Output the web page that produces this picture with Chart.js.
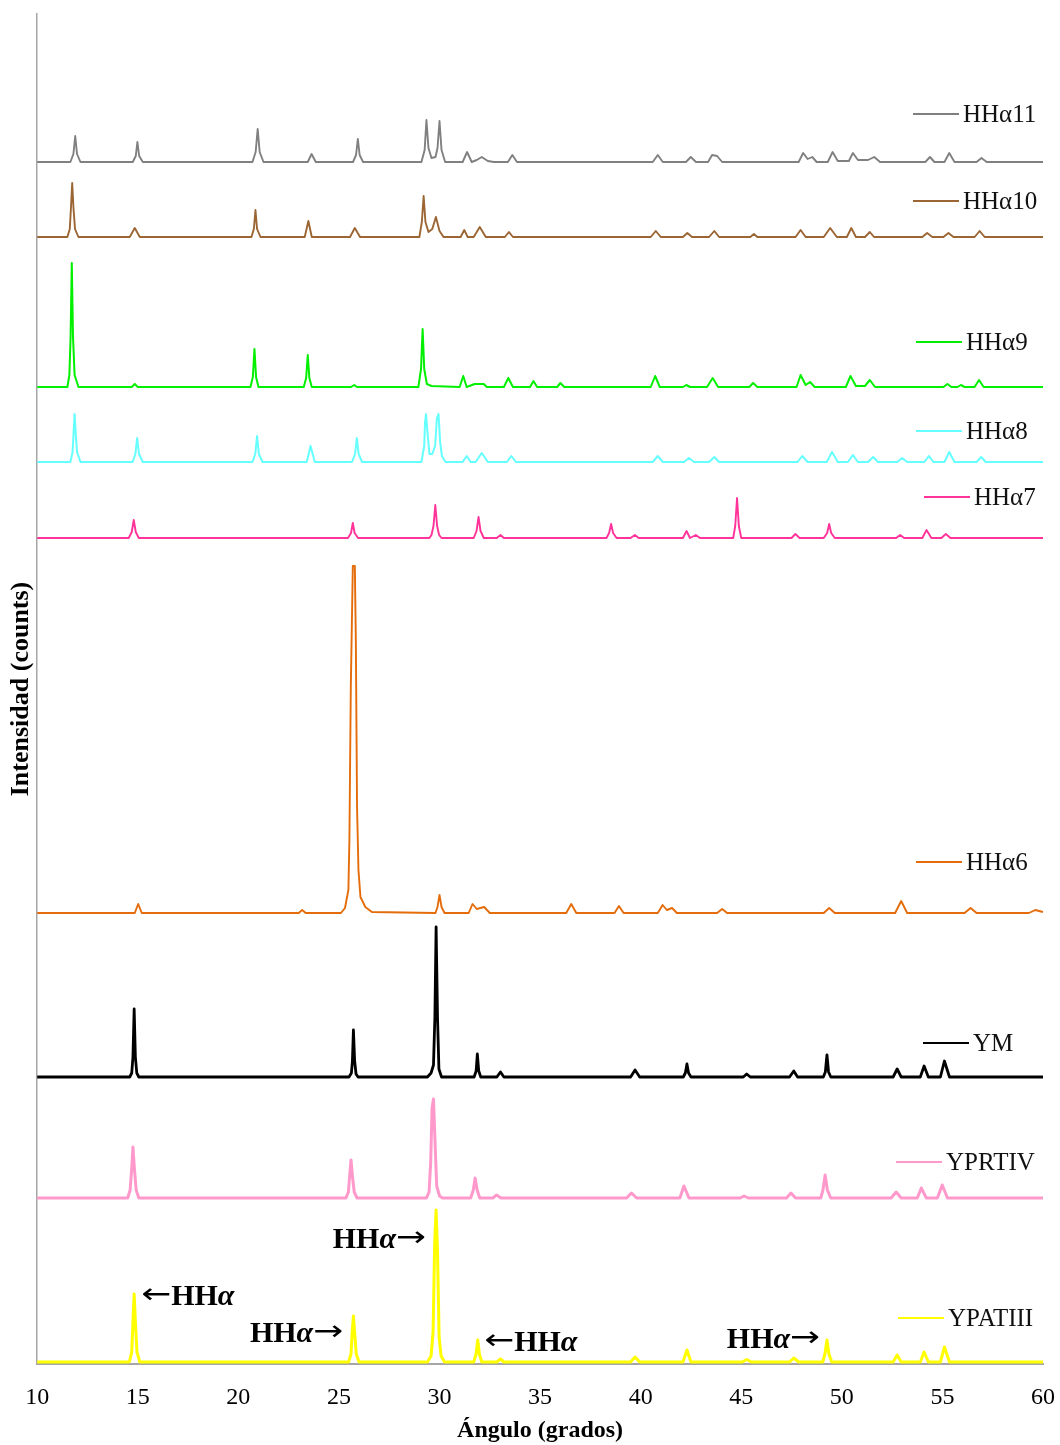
<!DOCTYPE html>
<html>
<head>
<meta charset="utf-8">
<script src="https://cdn.jsdelivr.net/npm/chart.js@4.4.1/dist/chart.umd.min.js"></script>
<style>
  html, body { margin: 0; padding: 0; background: #fff; }
  canvas { display: block; }
</style>
</head>
<body>
<canvas id="xrd" width="1060" height="1445"></canvas>
<script>
// ---------- datos: [ángulo, intensidad sobre la línea base] ----------

const seriesNames = ['HHα11', 'HHα10', 'HHα9', 'HHα8', 'HHα7', 'HHα6', 'YM', 'YPRTIV', 'YPATIII'];
const seriesColors = ['#808080', '#9b6534', '#00f000', '#66ffff', '#ff3399', '#e46c0a', '#000000', '#ff99cc', '#ffff00'];
const seriesWidths = [1.9, 1.9, 2, 2, 1.9, 1.9, 2.8, 3, 3];
// desplazamiento vertical de cada difractograma
const offsets = [1202, 1127, 977, 902, 826, 451, 287, 166, 2];

const hha11 = [[10,0],[11.65,0],[11.8,8],[11.89,26],[11.98,8],[12.15,0],
  [14.75,0],[14.9,6],[14.98,20],[15.07,6],[15.25,0],
  [20.7,0],[20.86,10],[20.96,33],[21.06,10],[21.25,0],
  [23.45,0],[23.64,8],[23.85,0],
  [25.7,0],[25.85,7],[25.94,23],[26.03,7],[26.2,0],
  [29.1,0],[29.26,12],[29.35,42],[29.45,14],[29.6,4],[29.8,5],[29.9,14],[30.0,41],[30.1,12],[30.28,0],
  [31.15,0],[31.37,10],[31.6,0],[31.85,2],[32.1,5],[32.4,1],[32.7,0],
  [33.4,0],[33.62,7],[33.85,0],
  [40.6,0],[40.85,7],[41.1,0],
  [42.25,0],[42.49,5],[42.75,0],
  [43.35,0],[43.55,7],[43.8,6],[44.05,0],
  [47.85,0],[48.08,9],[48.3,3],[48.53,5],[48.75,0],
  [49.3,0],[49.54,10],[49.8,1],
  [50.35,1],[50.55,9],[50.8,2],[51.3,2],[51.61,5],[51.9,0],
  [54.15,0],[54.38,5],[54.6,0],
  [55.1,0],[55.34,9],[55.6,0],
  [56.7,0],[56.94,4],[57.2,0],[60,0]];

const hha10 = [[10,0],[11.5,0],[11.62,8],[11.68,30],[11.74,54],[11.8,30],[11.88,8],[12.05,0],
  [14.6,0],[14.85,9],[15.1,0],
  [20.65,0],[20.77,8],[20.85,27],[20.93,8],[21.1,0],
  [23.3,0],[23.48,16],[23.65,0],
  [25.55,0],[25.79,9],[26.05,0],
  [29.0,0],[29.12,15],[29.21,41],[29.3,15],[29.45,5],[29.64,8],[29.82,20],[30.0,6],[30.2,0],
  [31.05,0],[31.23,7],[31.4,0],
  [31.7,0],[32.0,10],[32.3,0],
  [33.25,0],[33.45,5],[33.65,0],
  [40.5,0],[40.75,6],[41.0,0],
  [42.1,0],[42.32,4],[42.55,0],
  [43.4,0],[43.66,6],[43.9,0],
  [45.45,0],[45.63,3],[45.8,0],
  [47.7,0],[47.95,7],[48.2,0],
  [49.1,0],[49.42,9],[49.75,0],
  [50.25,0],[50.47,9],[50.7,0],
  [51.15,0],[51.39,5],[51.6,0],
  [54.0,0],[54.24,4],[54.5,0],
  [55.05,0],[55.3,4],[55.55,0],
  [56.6,0],[56.85,6],[57.1,0],[60,0]];

const hha9 = [[10,0],[11.5,0],[11.6,12],[11.66,50],[11.72,124],[11.78,50],[11.86,12],[12.05,0],
  [14.7,0],[14.85,3],[15.0,0],
  [20.6,0],[20.72,10],[20.8,38],[20.88,10],[21.0,0],
  [23.25,0],[23.37,9],[23.45,32],[23.53,9],[23.65,0],
  [25.6,0],[25.76,2],[25.9,0],
  [28.95,0],[29.08,18],[29.16,58],[29.24,18],[29.37,3],[29.6,1],
  [31.0,0],[31.18,11],[31.35,0],
  [31.75,3],[32.2,3],[32.35,0],
  [33.2,0],[33.42,9],[33.65,0],
  [34.5,0],[34.67,6],[34.85,0],
  [35.85,0],[36.01,4],[36.2,0],
  [40.5,0],[40.72,11],[40.95,0],
  [42.1,0],[42.27,2],[42.45,0],
  [43.3,0],[43.58,9],[43.85,0],
  [45.4,0],[45.59,4],[45.8,0],
  [47.75,0],[47.95,12],[48.2,2],[48.42,5],[48.65,0],
  [50.2,0],[50.43,11],[50.7,1],
  [51.15,1],[51.39,7],[51.65,0],
  [55.05,0],[55.25,3],[55.45,0],
  [55.75,0],[55.92,2],[56.1,0],
  [56.6,0],[56.82,7],[57.05,0],[60,0]];

const hha8 = [[10,0],[11.65,0],[11.76,10],[11.81,30],[11.86,48],[11.91,30],[11.98,10],[12.15,0],
  [14.75,0],[14.88,8],[14.97,24],[15.06,8],[15.25,0],
  [20.7,0],[20.84,8],[20.93,26],[21.02,8],[21.2,0],
  [23.4,0],[23.59,16],[23.8,0],
  [25.65,0],[25.8,8],[25.89,24],[25.98,8],[26.15,0],
  [29.1,0],[29.24,16],[29.28,40],[29.33,48],[29.4,30],[29.5,8],[29.64,8],[29.78,16],[29.87,44],[29.95,48],[30.03,20],[30.12,6],[30.3,0],
  [31.15,0],[31.35,6],[31.55,0],
  [31.8,0],[32.1,9],[32.4,0],
  [33.35,0],[33.57,6],[33.8,0],
  [40.6,0],[40.85,6],[41.1,0],
  [42.15,0],[42.4,4],[42.65,0],
  [43.4,0],[43.66,5],[43.9,0],
  [47.8,0],[48.03,6],[48.3,0],
  [49.25,0],[49.51,10],[49.8,0],
  [50.3,0],[50.55,7],[50.8,0],
  [51.3,0],[51.56,5],[51.8,0],
  [52.75,0],[52.99,4],[53.25,0],
  [54.1,0],[54.33,6],[54.55,0],
  [55.1,0],[55.34,10],[55.6,0],
  [56.7,0],[56.93,5],[57.15,0],[60,0]];

const hha7 = [[10,0],[14.55,0],[14.7,6],[14.8,18],[14.9,6],[15.05,0],
  [25.45,0],[25.6,5],[25.69,15],[25.78,5],[25.95,0],
  [29.5,0],[29.6,3],[29.7,12],[29.79,33],[29.88,12],[29.98,3],[30.1,0],
  [31.7,0],[31.84,7],[31.94,21],[32.04,7],[32.2,0],
  [32.85,0],[33.03,3],[33.2,0],
  [38.3,0],[38.43,5],[38.53,14],[38.63,5],[38.8,0],
  [39.5,0],[39.71,3],[39.9,0],
  [42.1,0],[42.28,7],[42.45,0],[42.74,3],[42.95,0],
  [44.6,0],[44.7,12],[44.79,40],[44.88,12],[45.0,0],
  [47.5,0],[47.69,4],[47.9,0],
  [49.1,0],[49.27,5],[49.37,14],[49.47,5],[49.65,0],
  [52.7,0],[52.9,3],[53.1,0],
  [54.0,0],[54.21,8],[54.45,0],
  [54.95,0],[55.17,4],[55.4,0],[60,0]];

const hha6 = [[10,0],[14.85,0],[15.02,9],[15.2,0],
  [23.0,0],[23.17,3],[23.35,0],
  [25.1,0],[25.3,5],[25.47,23],[25.52,73],[25.59,226],[25.69,347],[25.79,347],[25.84,273],[25.9,106],[25.97,43],[26.07,16],[26.31,6],[26.64,1],
  [29.8,0],[29.9,6],[30.0,18],[30.1,6],[30.25,0],
  [31.45,0],[31.64,9],[31.85,4],[32.22,6],[32.5,0],
  [36.3,0],[36.55,9],[36.8,0],
  [38.7,0],[38.92,7],[39.15,0],
  [40.85,0],[41.09,8],[41.3,3],[41.56,5],[41.8,0],
  [43.8,0],[44.05,4],[44.3,0],
  [49.1,0],[49.37,5],[49.65,0],
  [52.65,0],[52.95,12],[53.25,0],
  [56.1,0],[56.4,5],[56.7,0],
  [59.3,0],[59.62,3],[60,1]];

const ym = [[10,0],[14.6,0],[14.7,4],[14.76,20],[14.82,68],[14.88,20],[14.95,4],[15.05,0],
  [25.5,0],[25.62,4],[25.67,16],[25.72,47],[25.78,16],[25.85,3],[25.95,0],
  [29.4,0],[29.58,4],[29.7,12],[29.77,60],[29.83,150],[29.9,60],[29.97,8],[30.1,0],
  [31.72,0],[31.82,6],[31.88,23],[31.95,6],[32.05,0],
  [32.85,0],[33.03,5],[33.2,0],
  [39.5,0],[39.72,7],[39.95,0],
  [42.12,0],[42.22,4],[42.3,13],[42.38,4],[42.5,0],
  [45.1,0],[45.27,3],[45.45,0],
  [47.4,0],[47.61,6],[47.8,0],
  [49.08,0],[49.18,5],[49.26,22],[49.34,5],[49.45,0],
  [52.55,0],[52.75,8],[52.95,0],
  [53.9,0],[54.09,11],[54.3,0],
  [54.9,0],[55.1,16],[55.35,0],[60,0]];

const yprtiv = [[10,0],[14.5,0],[14.62,8],[14.7,30],[14.76,51],[14.83,30],[14.92,8],[15.05,0],
  [25.35,0],[25.47,6],[25.54,24],[25.6,38],[25.67,22],[25.76,6],[25.9,0],
  [29.35,0],[29.48,6],[29.56,35],[29.63,90],[29.7,99],[29.77,60],[29.86,12],[30.0,2],[30.15,0],
  [31.55,0],[31.68,8],[31.77,20],[31.87,8],[32.0,0],
  [32.65,0],[32.84,3],[33.05,0],
  [39.3,0],[39.54,5],[39.8,0],
  [41.95,0],[42.15,12],[42.4,0],
  [44.95,0],[45.14,2],[45.35,0],
  [47.25,0],[47.47,5],[47.7,0],
  [48.95,0],[49.06,8],[49.17,23],[49.28,8],[49.45,0],
  [52.45,0],[52.7,6],[52.95,0],
  [53.75,0],[53.95,10],[54.2,0],
  [54.75,0],[54.99,13],[55.25,0],[60,0]];

const ypatiii = [[10,0],[14.58,0],[14.7,10],[14.76,40],[14.82,68],[14.88,40],[14.96,10],[15.1,0],
  [25.48,0],[25.6,8],[25.66,30],[25.72,46],[25.78,30],[25.86,8],[26.0,0],
  [29.4,0],[29.58,6],[29.68,30],[29.76,120],[29.83,152],[29.9,110],[29.98,25],[30.08,6],[30.25,0],
  [31.7,0],[31.82,8],[31.9,22],[31.98,8],[32.1,0],
  [32.85,0],[33.03,3],[33.2,0],
  [39.5,0],[39.72,5],[39.95,0],
  [42.1,0],[42.3,12],[42.5,0],
  [45.05,0],[45.27,2.5],[45.5,0],
  [47.4,0],[47.61,4],[47.85,0],
  [49.05,0],[49.16,8],[49.26,22],[49.36,8],[49.5,0],
  [52.55,0],[52.75,7],[52.95,0],
  [53.9,0],[54.09,10],[54.3,0],
  [54.9,0],[55.1,15],[55.35,0],[60,0]];

const patterns = [hha11, hha10, hha9, hha8, hha7, hha6, ym, yprtiv, ypatiii];

const xTicks = [10, 15, 20, 25, 30, 35, 40, 45, 50, 55, 60];

// marcas de HHα sobre YPATIII: [ángulo, intensidad, texto]
const hhaMarks = [[15.17, 65, '←HHα'], [25.21, 28, 'HHα→'], [29.33, 122, 'HHα→'], [32.22, 19, '←HHα'], [48.92, 22, 'HHα→']];

// ============================================
// LEYENDA JUNTO A CADA CURVA
// ============================================

const legendSpots = [
    { x: 913, y: 114 }, { x: 913, y: 201 }, { x: 916, y: 342 }, { x: 916, y: 431 },
    { x: 924, y: 497 }, { x: 916, y: 862 }, { x: 923, y: 1043 }, { x: 896, y: 1162 }, { x: 898, y: 1318 }
];

const sideLegend = {
    id: 'sideLegend',
    afterDatasetsDraw(chart) {
        const ctx = chart.ctx;
        ctx.save();
        ctx.font = '25px "Liberation Serif"';
        ctx.textBaseline = 'middle';
        ctx.textAlign = 'left';
        seriesNames.forEach((name, i) => {
            const s = legendSpots[i];
            ctx.strokeStyle = seriesColors[i];
            ctx.lineWidth = 2;
            ctx.beginPath();
            ctx.moveTo(s.x, s.y);
            ctx.lineTo(s.x + 46, s.y);
            ctx.stroke();
            ctx.fillStyle = '#111';
            ctx.fillText(name, s.x + 50, s.y + 1);
        });
        ctx.restore();
    }
};

// ============================================
// FLECHAS HHα
// ============================================

const hhaLabels = {
    id: 'hhaLabels',
    afterDatasetsDraw(chart) {
        const ctx = chart.ctx;
        const xs = chart.scales.x, ys = chart.scales.y;
        const base = offsets[8];
        const bold = 'bold 30px "Liberation Serif"';
        const boldIt = 'italic bold 30px "Liberation Serif"';
        const arrowFont = '28px "DejaVu Sans"';
        const arrowW = 30;
        ctx.save();
        ctx.fillStyle = '#000';
        ctx.textBaseline = 'middle';
        ctx.textAlign = 'left';
        hhaMarks.forEach(([a, v, txt]) => {
            const px = xs.getPixelForValue(a);
            const py = ys.getPixelForValue(base + v);
            const left = txt.startsWith('←');
            const parts = left
                ? [['←', arrowFont], ['HH', bold], ['α', boldIt]]
                : [['HH', bold], ['α', boldIt], ['→', arrowFont]];
            const widthOf = p => {
                if (p[1] === arrowFont) return arrowW;
                ctx.font = p[1];
                return ctx.measureText(p[0]).width;
            };
            let total = 0;
            parts.forEach(p => { total += widthOf(p); });
            let cx = left ? px : px - total;
            parts.forEach(p => {
                ctx.font = p[1];
                if (p[1] === arrowFont) {
                    const w = ctx.measureText(p[0]).width;
                    ctx.save();
                    ctx.translate(cx, py - 1);
                    ctx.scale(arrowW / w, 1);
                    ctx.fillText(p[0], 0, 0);
                    ctx.restore();
                } else {
                    ctx.fillText(p[0], cx, py);
                }
                cx += widthOf(p);
            });
        });
        ctx.restore();
    }
};

const ctx = document.getElementById('xrd').getContext('2d');
new Chart(ctx, {
    type: 'line',
    data: {
        datasets: patterns.map((pts, i) => ({
            label: seriesNames[i],
            data: pts.map(p => ({ x: p[0], y: offsets[i] + p[1] })),
            borderColor: seriesColors[i],
            borderWidth: seriesWidths[i],
            borderJoinStyle: 'round',
            pointRadius: 0,
            tension: 0,
            fill: false,
            clip: false
        }))
    },
    options: {
        responsive: false,
        animation: false,
        devicePixelRatio: 1,
        layout: { padding: { left: 6, right: 17, top: 14, bottom: 0 } },
        plugins: {
            legend: { display: false },
            tooltip: { enabled: false }
        },
        scales: {
            x: {
                type: 'linear',
                min: 10,
                max: 60,
                afterBuildTicks: axis => { axis.ticks = xTicks.map(v => ({ value: v })); },
                afterFit: axis => {
                    axis.height = 81;
                    axis.paddingLeft = 0;
                    axis.paddingRight = 0;
                },
                ticks: {
                    color: '#000',
                    padding: 19,
                    maxRotation: 0,
                    font: { family: 'Liberation Serif', size: 24 }
                },
                grid: { display: false, drawTicks: false },
                border: { display: true, color: '#a6a6a6', width: 2 },
                title: {
                    display: true,
                    text: 'Ángulo (grados)',
                    color: '#000',
                    padding: { top: 4, bottom: 0 },
                    font: { family: 'Liberation Serif', size: 24, weight: 'bold' }
                }
            },
            y: {
                type: 'linear',
                min: 0,
                max: 1350,
                ticks: { display: false },
                grid: { display: false, drawTicks: false },
                border: { display: true, color: '#a6a6a6', width: 1.5 },
                title: {
                    display: true,
                    text: 'Intensidad (counts)',
                    color: '#000',
                    padding: { top: 0, bottom: 0 },
                    font: { family: 'Liberation Serif', size: 26, weight: 'bold' }
                }
            }
        }
    },
    plugins: [sideLegend, hhaLabels]
});
</script>
</body>
</html>
